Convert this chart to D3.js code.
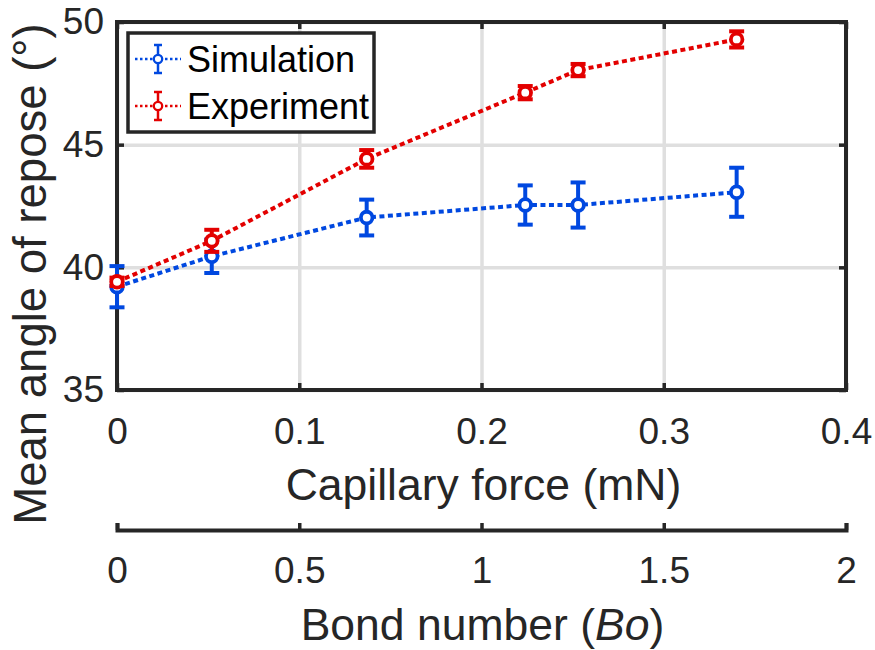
<!DOCTYPE html>
<html>
<head>
<meta charset="utf-8">
<script src="https://cdn.jsdelivr.net/npm/d3@7"></script>
<style>
  body { margin: 0; background: #fff; }
  text { font-family: "Liberation Sans", Arial, sans-serif; fill: #262626; }
</style>
</head>
<body>
<div id="chart"></div>
<script>
// donnees
const force = [0, 0.052, 0.137, 0.224, 0.253, 0.34];          // force capillaire (mN)
const simMean = [39.21, 40.45, 42.03, 42.54, 42.54, 43.06];   // simulation
const simErr = [0.84, 0.68, 0.73, 0.8, 0.92, 1.0];
const expMean = [39.41, 41.08, 44.42, 47.12, 48.04, 49.29];   // experience
const expErr = [0.17, 0.45, 0.36, 0.27, 0.25, 0.33];
const forceTicks = [0, 0.1, 0.2, 0.3, 0.4];
const bondTicks = [0, 0.5, 1, 1.5, 2];
const angleTicks = [35, 40, 45, 50];
const seriesNames = ["Simulation", "Experiment"];

const W = 875, H = 650;
const plotL = 117, plotR = 846, plotT = 22, plotB = 390;
const axisColor = "#262626";
const colors = ["#0048e0", "#e30000"];

const svg = d3.select("#chart")
  .append("svg")
  .attr("width", W)
  .attr("height", H);

svg.append("rect").attr("width", W).attr("height", H).attr("fill", "#fff");

// echelles
const x = d3.scaleLinear().domain([0, 0.4]).range([plotL, plotR]);
const bond = d3.scaleLinear().domain([0, 2]).range([plotL, plotR]);
const y = d3.scaleLinear().domain([35, 50]).range([plotB, plotT]);

// grille
svg.append("g")
  .attr("transform", `translate(0,${plotB})`)
  .call(d3.axisBottom(x).tickValues(forceTicks).tickSize(-(plotB - plotT)).tickFormat(""))
  .call(g => g.select(".domain").remove())
  .call(g => g.selectAll("line").attr("stroke", "#dfdfdf").attr("stroke-width", 3.5));

svg.append("g")
  .attr("transform", `translate(${plotL},0)`)
  .call(d3.axisLeft(y).tickValues(angleTicks).tickSize(-(plotR - plotL)).tickFormat(""))
  .call(g => g.select(".domain").remove())
  .call(g => g.selectAll("line").attr("stroke", "#dfdfdf").attr("stroke-width", 3.5));

// axes
function styleAxis(g, fontSize) {
  g.select(".domain").remove();
  g.selectAll("line").attr("stroke", axisColor).attr("stroke-width", 3.5);
  g.selectAll("text").attr("fill", axisColor).style("font-size", fontSize + "px")
    .style("font-family", "'Liberation Sans', Arial, sans-serif");
}

svg.append("g")
  .attr("transform", `translate(0,${plotB})`)
  .call(d3.axisBottom(x).tickValues(forceTicks).tickSizeInner(-7).tickSizeOuter(0)
    .tickPadding(28).tickFormat(d3.format("")))
  .call(g => styleAxis(g, 37));

svg.append("g")
  .attr("transform", `translate(0,${plotT})`)
  .call(d3.axisTop(x).tickValues(forceTicks).tickSizeInner(-7).tickSizeOuter(0).tickFormat(""))
  .call(g => styleAxis(g, 37));

svg.append("g")
  .attr("transform", `translate(${plotL},0)`)
  .call(d3.axisLeft(y).tickValues(angleTicks).tickSizeInner(-7).tickSizeOuter(0).tickPadding(13))
  .call(g => styleAxis(g, 37));

svg.append("g")
  .attr("transform", `translate(${plotR},0)`)
  .call(d3.axisRight(y).tickValues(angleTicks).tickSizeInner(-7).tickSizeOuter(0).tickFormat(""))
  .call(g => styleAxis(g, 37));

// cadre
svg.append("rect")
  .attr("x", plotL).attr("y", plotT)
  .attr("width", plotR - plotL).attr("height", plotB - plotT)
  .attr("fill", "none")
  .attr("stroke", axisColor)
  .attr("stroke-width", 4);

// deuxieme axe: nombre de Bond
svg.append("g")
  .attr("transform", "translate(0,530)")
  .call(d3.axisBottom(bond).tickValues(bondTicks).tickSizeInner(-7).tickSizeOuter(-7)
    .tickPadding(27).tickFormat(d3.format("")))
  .call(g => {
    g.select(".domain").attr("stroke", axisColor).attr("stroke-width", 4);
    g.selectAll("line").attr("stroke", axisColor).attr("stroke-width", 3.5);
    g.selectAll("text").attr("fill", axisColor).style("font-size", "37px")
      .style("font-family", "'Liberation Sans', Arial, sans-serif");
  });

// titres des axes
svg.append("text")
  .attr("x", (plotL + plotR) / 2 + 2).attr("y", 500)
  .attr("text-anchor", "middle")
  .style("font-size", "44.5px")
  .text("Capillary force (mN)");

const bondLabel = svg.append("text")
  .attr("x", (plotL + plotR) / 2 + 1).attr("y", 640)
  .attr("text-anchor", "middle")
  .style("font-size", "44.5px");
bondLabel.append("tspan").text("Bond number (");
bondLabel.append("tspan").style("font-style", "italic").text("Bo");
bondLabel.append("tspan").text(")");

svg.append("text")
  .attr("transform", "translate(46,274) rotate(-90)")
  .attr("text-anchor", "middle")
  .style("font-size", "45.5px")
  .text("Mean angle of repose (°)");

// series
const series = [
  { name: seriesNames[0], mean: simMean, err: simErr, color: colors[0] },
  { name: seriesNames[1], mean: expMean, err: expErr, color: colors[1] }
];

const line = d3.line().x(d => x(d.f)).y(d => y(d.m));
const capW = 7.5;

series.forEach(s => {
  const pts = force.map((f, i) => ({ f: f, m: s.mean[i], e: s.err[i] }));
  const g = svg.append("g");

  g.append("path")
    .datum(pts)
    .attr("d", line)
    .attr("fill", "none")
    .attr("stroke", s.color)
    .attr("stroke-width", 4)
    .attr("stroke-dasharray", "5,3.5");

  const eb = g.selectAll(".eb").data(pts).enter().append("g").attr("class", "eb");
  eb.append("line")
    .attr("x1", d => x(d.f)).attr("x2", d => x(d.f))
    .attr("y1", d => y(d.m - d.e)).attr("y2", d => y(d.m + d.e))
    .attr("stroke", s.color).attr("stroke-width", 4);
  eb.append("line")
    .attr("x1", d => x(d.f) - capW).attr("x2", d => x(d.f) + capW)
    .attr("y1", d => y(d.m + d.e)).attr("y2", d => y(d.m + d.e))
    .attr("stroke", s.color).attr("stroke-width", 4);
  eb.append("line")
    .attr("x1", d => x(d.f) - capW).attr("x2", d => x(d.f) + capW)
    .attr("y1", d => y(d.m - d.e)).attr("y2", d => y(d.m - d.e))
    .attr("stroke", s.color).attr("stroke-width", 4);
  eb.append("circle")
    .attr("cx", d => x(d.f)).attr("cy", d => y(d.m))
    .attr("r", 5.8)
    .attr("fill", "#fff")
    .attr("stroke", s.color)
    .attr("stroke-width", 3.8);
});

// legende
const legend = svg.append("g");
legend.append("rect")
  .attr("x", 128).attr("y", 33)
  .attr("width", 246).attr("height", 99)
  .attr("fill", "#fff")
  .attr("stroke", axisColor)
  .attr("stroke-width", 3.5);

const legendY = d3.scalePoint().domain(seriesNames).range([59, 106]);

series.forEach(s => {
  const cy = legendY(s.name);
  const item = legend.append("g");
  item.append("line")
    .attr("x1", 135).attr("x2", 181).attr("y1", cy).attr("y2", cy)
    .attr("stroke", s.color).attr("stroke-width", 2.5)
    .attr("stroke-dasharray", "2.5,2.5");
  item.append("line")
    .attr("x1", 158).attr("x2", 158).attr("y1", cy - 14).attr("y2", cy + 14)
    .attr("stroke", s.color).attr("stroke-width", 2.5);
  item.append("line")
    .attr("x1", 154).attr("x2", 162).attr("y1", cy - 14).attr("y2", cy - 14)
    .attr("stroke", s.color).attr("stroke-width", 2.5);
  item.append("line")
    .attr("x1", 154).attr("x2", 162).attr("y1", cy + 14).attr("y2", cy + 14)
    .attr("stroke", s.color).attr("stroke-width", 2.5);
  item.append("circle")
    .attr("cx", 158).attr("cy", cy).attr("r", 4.2)
    .attr("fill", "#fff").attr("stroke", s.color).attr("stroke-width", 2.3);
  item.append("text")
    .attr("x", 187).attr("y", cy + 13)
    .style("font-size", "36px")
    .style("fill", "#000")
    .text(s.name);
});
</script>
</body>
</html>
